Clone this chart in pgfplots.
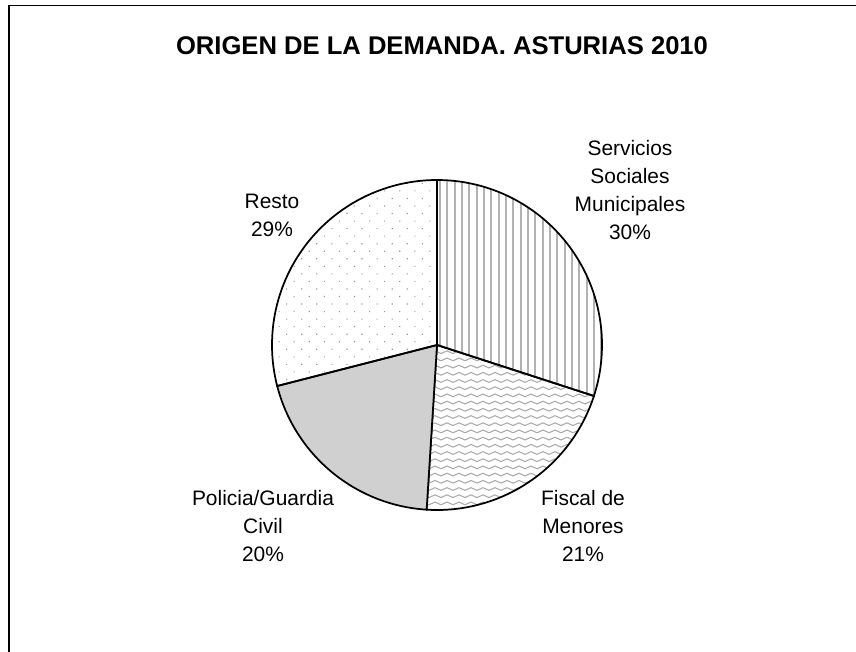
\documentclass[border=0pt]{standalone}
\usepackage{pgfplots}
\pgfplotsset{compat=1.18}
\usepackage{pgfplotstable}
\usepackage{fontspec}
\setmainfont{Liberation Sans}
\usetikzlibrary{patterns,patterns.meta}

\pgfdeclarepatternformonly{waves}{\pgfqpoint{-1pt}{-1pt}}{\pgfqpoint{10pt}{6.5pt}}{\pgfqpoint{9pt}{5.4pt}}{%
  \pgfsetlinewidth{0.8pt}%
  \pgfpathmoveto{\pgfqpoint{0pt}{2.7pt}}%
  \pgfpathsine{\pgfqpoint{2.25pt}{1pt}}%
  \pgfpathcosine{\pgfqpoint{2.25pt}{-1pt}}%
  \pgfpathsine{\pgfqpoint{2.25pt}{-1pt}}%
  \pgfpathcosine{\pgfqpoint{2.25pt}{1pt}}%
  \pgfusepath{stroke}%
}

% percentages of each slice (clockwise from 12 o'clock)
\pgfplotstableread{
name value
Servicios 30
Fiscal 21
Policia 20
Resto 29
}\piedata

\pgfplotstablegetelem{0}{value}\of\piedata \let\vA\pgfplotsretval
\pgfplotstablegetelem{1}{value}\of\piedata \let\vB\pgfplotsretval
\pgfplotstablegetelem{2}{value}\of\piedata \let\vC\pgfplotsretval
\pgfplotstablegetelem{3}{value}\of\piedata \let\vD\pgfplotsretval

\pgfmathsetmacro{\aA}{90}
\pgfmathsetmacro{\aB}{90-3.6*\vA}
\pgfmathsetmacro{\aC}{\aB-3.6*\vB}
\pgfmathsetmacro{\aD}{\aC-3.6*\vC}
\pgfmathsetmacro{\aE}{\aD-3.6*\vD}

\def\cx{437}
\def\cy{306}
\def\R{165}

\begin{document}
\begin{tikzpicture}
\begin{axis}[
  scale only axis,
  width=642pt, height=488.25pt,
  xmin=0, xmax=856, ymin=0, ymax=651,
  hide axis,
  clip=true,
]
% frame (left and top edges visible)
\addplot[black, line width=0.9pt] coordinates {(9,-50) (9,645.5) (900,645.5)};

\addplot[draw=black, line width=1.3pt, pattern={Lines[angle=90,distance=5.5pt,line width=1.4pt]}, pattern color=black!30, domain=\aB:\aA, samples=80, smooth]
  ({\cx+\R*cos(x)},{\cy+\R*sin(x)}) -- (axis cs:\cx,\cy) -- cycle;
\addplot[draw=black, line width=1.3pt, pattern=waves, pattern color=black!33, domain=\aC:\aB, samples=80, smooth]
  ({\cx+\R*cos(x)},{\cy+\R*sin(x)}) -- (axis cs:\cx,\cy) -- cycle;
\addplot[draw=black, line width=1.3pt, fill={rgb,255:red,208;green,208;blue,208}, domain=\aD:\aC, samples=80, smooth]
  ({\cx+\R*cos(x)},{\cy+\R*sin(x)}) -- (axis cs:\cx,\cy) -- cycle;
\addplot[draw=black, line width=1.3pt, pattern={Dots[angle=45,distance=8pt,radius=0.6pt]}, pattern color=black!40, domain=\aE:\aD, samples=80, smooth]
  ({\cx+\R*cos(x)},{\cy+\R*sin(x)}) -- (axis cs:\cx,\cy) -- cycle;

\node[font=\bfseries\fontsize{19.2}{22}\selectfont] at (axis cs:442,605) {ORIGEN DE LA DEMANDA. ASTURIAS 2010};

\node[align=center, font=\fontsize{15.7}{21}\selectfont] at (axis cs:630,461) {Servicios\\Sociales\\Municipales\\30\%};
\node[align=center, font=\fontsize{15.7}{21}\selectfont] at (axis cs:272,436) {Resto\\29\%};
\node[align=center, font=\fontsize{15.7}{21}\selectfont] at (axis cs:263,125) {Policia/Guardia\\Civil\\20\%};
\node[align=center, font=\fontsize{15.7}{21}\selectfont] at (axis cs:583,125) {Fiscal de\\Menores\\21\%};

\path (rel axis cs:0,0) rectangle (rel axis cs:1,1);
\end{axis}
\end{tikzpicture}
\end{document}
